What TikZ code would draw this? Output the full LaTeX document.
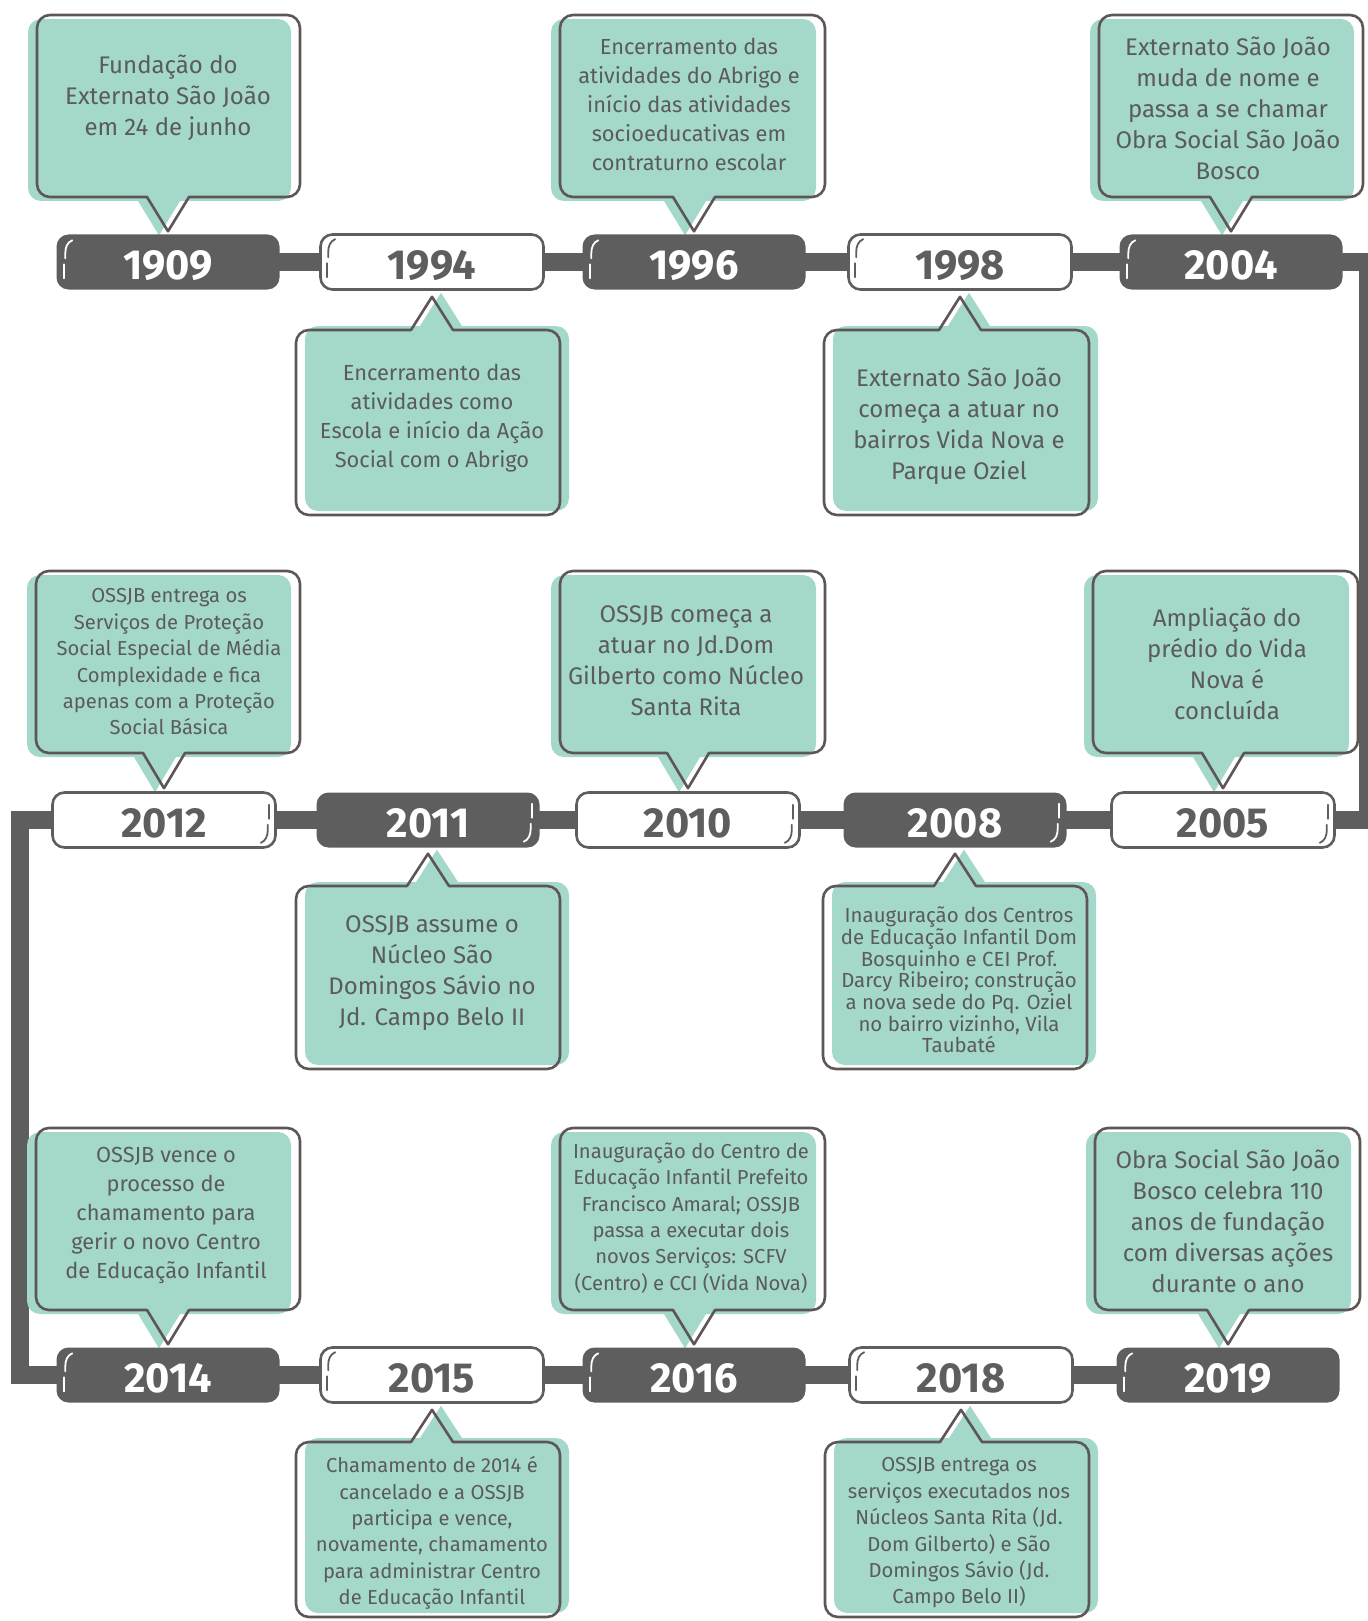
\documentclass[tikz,border=0pt]{standalone}
\usepackage{fontspec}
\setmainfont{Fira Sans}
\newfontfamily\yearfont{Fira Sans}[FakeStretch=0.99]
\usetikzlibrary{calc}
\definecolor{dkgray}{HTML}{5E5E5E}
\definecolor{olgray}{HTML}{5E5656}
\definecolor{txtgray}{HTML}{5B5B5B}
\definecolor{mint}{HTML}{A3D8CA}
\pgfdeclarelayer{bg}
\pgfsetlayers{bg,main}

% upper callout: x1,y1,x2,y2,tip
\newcommand\upcall[5]{%
  \coordinate (tp) at (#5);
  \coordinate (bl) at ($(tp |- 0,#4)+(-21,0)$);
  \coordinate (br) at ($(tp |- 0,#4)+(21,0)$);
  \fill[mint, rounded corners=13pt] (#1-9,#2+4) rectangle (#3-9,#4+4);
  \fill[mint] ($(bl)+(-9,4)$) -- ($(tp)+(-9,4)$) -- ($(br)+(-9,4)$) -- ($(br)+(-9,-2)$) -- ($(bl)+(-9,-2)$) -- cycle;
  \draw[outl, rounded corners=13pt] (br) -- (#3,#4) -- (#3,#2) -- (#1,#2) -- (#1,#4) -- (bl);
  \draw[outl] (bl) -- (tp) -- (br);
}
% lower callout: x1,y1,x2,y2,tip
\newcommand\downcall[5]{%
  \coordinate (tp) at (#5);
  \coordinate (bl) at ($(tp |- 0,#2)+(-21,0)$);
  \coordinate (br) at ($(tp |- 0,#2)+(21,0)$);
  \fill[mint, rounded corners=13pt] (#1+9,#2-4) rectangle (#3+9,#4-4);
  \fill[mint] ($(bl)+(9,-4)$) -- ($(tp)+(9,-4)$) -- ($(br)+(9,-4)$) -- ($(br)+(9,2)$) -- ($(bl)+(9,2)$) -- cycle;
  \draw[outl, rounded corners=13pt] (br) -- (#3,#2) -- (#3,#4) -- (#1,#4) -- (#1,#2) -- (bl);
  \draw[outl] (bl) -- (tp) -- (br);
}
% decorative marks
\newcommand\lmark[2]{%
  \draw[#2, line width=1.8pt, line cap=round] ($(#1.north west)+(16,6)$) .. controls ($(#1.north west)+(11,8)$) and ($(#1.north west)+(9,13)$) .. ($(#1.north west)+(9,19)$) -- ($(#1.north west)+(9,24)$);
  \draw[#2, line width=1.8pt, line cap=round] ($(#1.north west)+(8,30)$) -- ($(#1.north west)+(8,44)$);
}
\newcommand\rmark[2]{%
  \draw[#2, line width=1.8pt, line cap=round] ($(#1.south east)+(-16,-6)$) .. controls ($(#1.south east)+(-11,-8)$) and ($(#1.south east)+(-9,-13)$) .. ($(#1.south east)+(-9,-19)$) -- ($(#1.south east)+(-9,-24)$);
  \draw[#2, line width=1.8pt, line cap=round] ($(#1.south east)+(-8,-30)$) -- ($(#1.south east)+(-8,-44)$);
}

\begin{document}
\begin{tikzpicture}[x=1pt,y=-1pt,
  yearbox/.style={rectangle, rounded corners=12pt, minimum width=223pt, minimum height=55pt, inner sep=0pt, text height=35pt, text depth=0pt, font=\yearfont\bfseries\fontsize{42}{42}\selectfont},
  darkyear/.style={yearbox, fill=dkgray, text=white},
  lightyear/.style={yearbox, fill=white, draw=dkgray, line width=2.6pt, text=dkgray},
  outl/.style={draw=olgray, line width=2.6pt, line cap=round, line join=round},
  bar/.style={draw=dkgray, line width=18pt, line join=miter},
  tA/.style={align=center, text=txtgray, inner sep=0pt, font=\fontsize{24}{31}\selectfont},
  tB/.style={align=center, text=txtgray, inner sep=0pt, font=\fontsize{21.8}{29}\selectfont},
  tC/.style={align=center, text=txtgray, inner sep=0pt, font=\fontsize{20.2}{26.4}\selectfont},
  tD/.style={align=center, text=txtgray, inner sep=0pt, font=\fontsize{20.4}{21.7}\selectfont}
]
\useasboundingbox (0,0) rectangle (1367,1621);

% ---- year boxes ----
\node[darkyear]  (y1909) at (168,262) {1909};
\node[lightyear] (y1994) at (432,262) {1994};
\node[darkyear]  (y1996) at (694,262) {1996};
\node[lightyear] (y1998) at (960,262) {1998};
\node[darkyear]  (y2004) at (1231,262) {2004};

\node[lightyear] (y2012) at (164,820) {2012};
\node[darkyear]  (y2011) at (428,820) {2011};
\node[lightyear] (y2010) at (688,820) {2010};
\node[darkyear]  (y2008) at (955,820) {2008};
\node[lightyear] (y2005) at (1223,820) {2005};

\node[darkyear]  (y2014) at (168,1375) {2014};
\node[lightyear] (y2015) at (432,1375) {2015};
\node[darkyear]  (y2016) at (694,1375) {2016};
\node[lightyear] (y2018) at (961,1375) {2018};
\node[darkyear]  (y2019) at (1228,1375) {2019};

% marks
\lmark{y1909}{white} \lmark{y1994}{dkgray} \lmark{y1996}{white} \lmark{y1998}{dkgray} \lmark{y2004}{white}
\rmark{y2012}{dkgray} \rmark{y2011}{white} \rmark{y2010}{dkgray} \rmark{y2008}{white} \rmark{y2005}{dkgray}
\lmark{y2014}{white} \lmark{y2015}{dkgray} \lmark{y2016}{white} \lmark{y2018}{dkgray} \lmark{y2019}{white}

% pointer tips
\foreach \y in {1909,1996,2004,2012,2010,2005,2014,2016,2019} {\coordinate (p\y) at ($(y\y.north)+(0,-3)$);}
\foreach \y in {1994,1998,2011,2008,2015,2018} {\coordinate (p\y) at ($(y\y.south)+(0,6)$);}

\coordinate (rx) at (1368,0);
\coordinate (lx) at (20,0);

\begin{pgfonlayer}{bg}
  % connectors
  \draw[bar] (y1909.center) -- (y2004.center) -- (y2004.center -| rx) -- (y2005.center -| rx) -- (y2005.center);
  \draw[bar] (y2005.center) -- (y2012.center) -- (y2012.center -| lx) -- (y2014.center -| lx) -- (y2014.center);
  \draw[bar] (y2014.center) -- (y2019.center);
  % callouts
  \upcall{37}{15}{300}{197}{p1909}
  \upcall{560}{15}{825}{197}{p1996}
  \upcall{1099}{15}{1363}{197}{p2004}
  \downcall{296}{330}{560}{515}{p1994}
  \downcall{824}{330}{1089}{515}{p1998}
  \upcall{36}{571}{300}{753}{p2012}
  \upcall{560}{571}{825}{753}{p2010}
  \upcall{1093}{571}{1358}{753}{p2005}
  \downcall{296}{886}{560}{1069}{p2011}
  \downcall{823}{886}{1087}{1069}{p2008}
  \upcall{36}{1128}{300}{1310}{p2014}
  \upcall{560}{1128}{825}{1310}{p2016}
  \upcall{1095}{1128}{1360}{1310}{p2019}
  \downcall{296}{1442}{560}{1617}{p2015}
  \downcall{825}{1442}{1089}{1617}{p2018}
\end{pgfonlayer}

% ---- texts ----
\node[tA] (c1909) at (168,98) {Fundação do\\Externato São João\\em 24 de junho};
\node[tB] (c1996) at (689,104) {Encerramento das\\atividades do Abrigo e\\início das atividades\\socioeducativas em\\contraturno escolar};
\node[tA] (c2004) at (1228,108) {Externato São João\\muda de nome e\\passa a se chamar\\Obra Social São João\\Bosco};
\node[tB] (c1994) at (432,418) {Encerramento das\\atividades como\\Escola e início da Ação\\Social com o Abrigo};
\node[tA] (c1998) at (959,426) {Externato São João\\começa a atuar no\\bairros Vida Nova e\\Parque Oziel};
\node[tC] (c2012) at (169,662) {OSSJB entrega os\\Serviços de Proteção\\Social Especial de Média\\Complexidade e fica\\apenas com a Proteção\\Social Básica};
\node[tA] (c2010) at (686,661) {OSSJB começa a\\atuar no Jd.Dom\\Gilberto como Núcleo\\Santa Rita};
\node[tA] (c2005) at (1227,664) {Ampliação do\\prédio do Vida\\Nova é\\concluída};
\node[tA] (c2011) at (432,973) {OSSJB assume o\\Núcleo São\\Domingos Sávio no\\Jd. Campo Belo II};
\node[tD] (c2008) at (959,980) {Inauguração dos Centros\\de Educação Infantil Dom\\Bosquinho e CEI Prof.\\Darcy Ribeiro; construção\\a nova sede do Pq. Oziel\\no bairro vizinho, Vila\\Taubaté};
\node[tB] (c2014) at (166,1215) {OSSJB vence o\\processo de\\chamamento para\\gerir o novo Centro\\de Educação Infantil};
\node[tC] (c2016) at (691,1218) {Inauguração do Centro de\\Educação Infantil Prefeito\\Francisco Amaral; OSSJB\\passa a executar dois\\novos Serviços: SCFV\\(Centro) e CCI (Vida Nova)};
\node[tA] (c2019) at (1228,1221) {Obra Social São João\\Bosco celebra 110\\anos de fundação\\com diversas ações\\durante o ano};
\node[tC] (c2015) at (432,1533) {Chamamento de 2014 é\\cancelado e a OSSJB\\participa e vence,\\novamente, chamamento\\para administrar Centro\\de Educação Infantil};
\node[tC] (c2018) at (959,1533) {OSSJB entrega os\\serviços executados nos\\Núcleos Santa Rita (Jd.\\Dom Gilberto) e São\\Domingos Sávio (Jd.\\Campo Belo II)};
\end{tikzpicture}
\end{document}
